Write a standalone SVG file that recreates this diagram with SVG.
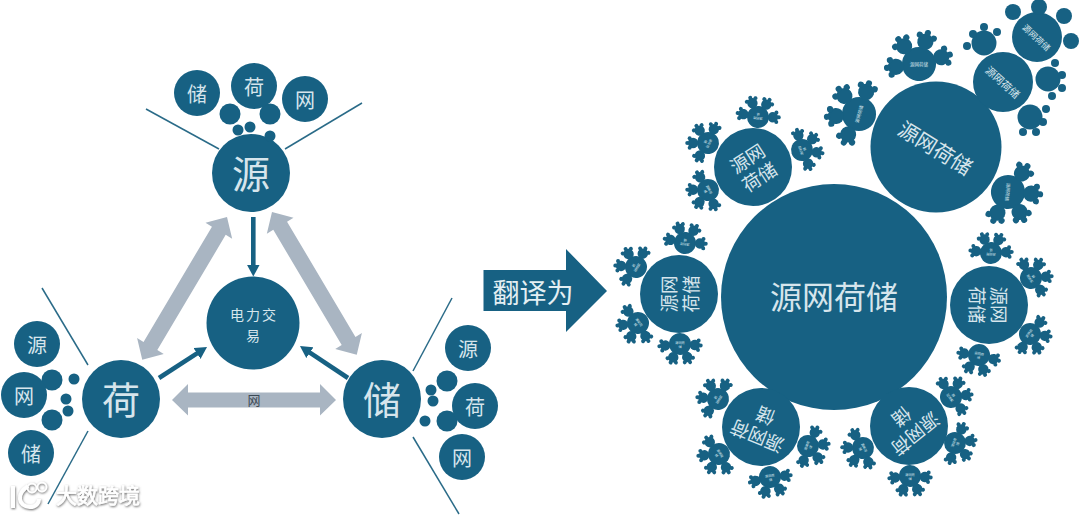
<svg xmlns="http://www.w3.org/2000/svg" width="1080" height="515" viewBox="0 0 1080 515">
<style>
text{font-family:"Noto Sans CJK SC","Noto Sans",sans-serif;text-anchor:middle;dominant-baseline:central}
.n{fill:#176183}
.t{fill:#d6e5ec}
.ln{stroke:#2a6b88;stroke-width:1.5;fill:none}
.ga{fill:#a9b5c2}
.da{stroke:#176183;stroke-width:4.6;fill:none;marker-end:url(#ah)}
.s38{font-size:38px}.s20{font-size:20px}.s14{font-size:14px;letter-spacing:2px}.s19{font-size:18.5px}.s3{font-size:3.2px}.s45{font-size:4.5px}
.wm{fill:#fff;stroke:#fff}
</style>
<defs>
<marker id="ah" viewBox="0 0 12 13" markerUnits="userSpaceOnUse" markerWidth="12" markerHeight="13" refX="1" refY="6.5" orient="auto"><path d="M0,0L12,6.5L0,13Z" fill="#176183"/></marker>
<filter id="sh" x="-10%" y="-20%" width="120%" height="150%"><feDropShadow dx="0.5" dy="1" stdDeviation="1.1" flood-color="#666" flood-opacity="1"/></filter>
<g id="blob" class="n"><circle r="5.2"/><circle cy="-5.8" r="2"/><circle cx="-4.7" cy="-3.4" r="2"/><circle cx="4.7" cy="-3.4" r="2"/></g>
<g id="flake" class="n"><circle r="11"/>
<use href="#blob" transform="translate(-14.9 -1.3) rotate(-85)"/>
<use href="#blob" transform="translate(-7 -13.2) rotate(-28)"/>
<use href="#blob" transform="translate(7 -13.2) rotate(28)"/>
<use href="#blob" transform="translate(14.9 -1.3) rotate(85)"/>
</g>
<g id="ft"><text class="t s3"><tspan x="0" y="-2">源网荷</tspan><tspan x="0" y="2">储</tspan></text></g>
</defs>

<g id="connectors">
<line class="ln" x1="146" y1="109" x2="219" y2="149"/>
<line class="ln" x1="362" y1="103" x2="285" y2="149"/>
<line class="ln" x1="42" y1="288" x2="88" y2="365"/>
<line class="ln" x1="88" y1="431" x2="48" y2="504"/>
<line class="ln" x1="452" y1="298" x2="413" y2="371"/>
<line class="ln" x1="413" y1="437" x2="459" y2="514"/>
<polygon class="ga" transform="translate(227 217) rotate(120.7)" points="0,0 16,-15.5 16,-8 150,-8 150,-15.5 166,0 150,15.5 150,8 16,8 16,15.5"/>
<polygon class="ga" transform="translate(272 212) rotate(59.3)" points="0,0 16,-15.5 16,-8 150,-8 150,-15.5 166,0 150,15.5 150,8 16,8 16,15.5"/>
<polygon class="ga" points="172,400 188,384 188,392.5 320,392.5 320,384 336,400 320,415.5 320,407.5 188,407.5 188,415.5"/>
<text x="254" y="399.5" font-size="13" fill="#3d4a55">网</text>
<line class="da" x1="253.3" y1="217" x2="253.3" y2="265.5"/>
<line class="da" x1="159" y1="378" x2="197.8" y2="352.9"/>
<line class="da" x1="348" y1="378" x2="309.1" y2="352.1"/>
</g>

<g id="node-yuan" class="n">
<circle cx="251" cy="173" r="39"/><text class="t s38" x="251" y="171">源</text>
<circle cx="230" cy="114" r="10.5"/><circle cx="270" cy="114" r="10.5"/><circle cx="238" cy="130" r="5.5"/><circle cx="250" cy="127" r="5.5"/><circle cx="270" cy="136" r="5.5"/>
<circle cx="197" cy="93" r="23"/><text class="t s20" x="197" y="93">储</text>
<circle cx="254" cy="86" r="23"/><text class="t s20" x="254" y="86">荷</text>
<circle cx="305" cy="99" r="23"/><text class="t s20" x="305" y="99">网</text>
</g>
<g id="node-he" class="n">
<circle cx="121" cy="399" r="39"/><text class="t s38" x="121" y="397">荷</text>
<circle cx="52" cy="380" r="10.5"/><circle cx="52" cy="420" r="10.5"/><circle cx="74" cy="379" r="5.5"/><circle cx="66" cy="399" r="5.5"/><circle cx="68" cy="411" r="5.5"/>
<circle cx="37" cy="344" r="23"/><text class="t s20" x="37" y="344">源</text>
<circle cx="24" cy="395" r="23"/><text class="t s20" x="24" y="395">网</text>
<circle cx="31" cy="453" r="23"/><text class="t s20" x="31" y="453">储</text>
</g>
<g id="node-chu" class="n">
<circle cx="382" cy="399" r="39"/><text class="t s38" x="382" y="397">储</text>
<circle cx="447" cy="381" r="10.5"/><circle cx="447" cy="421" r="10.5"/><circle cx="431" cy="390" r="5.5"/><circle cx="433" cy="401" r="5.5"/><circle cx="425" cy="421" r="5.5"/>
<circle cx="468" cy="348" r="23"/><text class="t s20" x="468" y="348">源</text>
<circle cx="475" cy="406" r="23"/><text class="t s20" x="475" y="406">荷</text>
<circle cx="462" cy="457" r="23"/><text class="t s20" x="462" y="457">网</text>
</g>
<g id="node-trade" class="n">
<circle cx="253" cy="323" r="46.5"/>
<text class="t s14"><tspan x="254" y="314">电力交</tspan><tspan x="254" y="335">易</tspan></text>
</g>

<g id="arrow-translate">
<polygon class="n" points="483.5,270 566,270 566,249 607,291 566,332 566,311 483.5,311"/>
<text x="533" y="291" font-size="27" fill="#e4eff3">翻译为</text>
</g>

<g id="node-main" class="n"><circle cx="834" cy="297" r="113"/><text class="t" x="834" y="295" font-size="32">源网荷储</text></g>

<g id="node-top" class="n">
<circle cx="936" cy="147" r="65.5"/><text class="t" font-size="20.5" transform="translate(936 147) rotate(31.5)">源网荷储</text>
<use href="#flake" transform="translate(919 64) rotate(-12) scale(1.55)"/><text class="t s45" transform="translate(919 64)">源网荷储</text>
<use href="#flake" transform="translate(859 114) rotate(-67) scale(1.55)"/><text class="t s45" transform="translate(859 114) rotate(-75)">源网荷储</text>
<use href="#flake" transform="translate(1008 192) rotate(122) scale(1.55)"/><text class="t s45" transform="translate(1008 192) rotate(95)">源网荷储</text>
</g>

<g id="node-top2" class="n">
<circle cx="1003" cy="82" r="30"/><text class="t" font-size="10.5" transform="translate(1003 82) rotate(42)">源网荷储</text>
<circle cx="1037" cy="37" r="25"/><text class="t" font-size="8.5" transform="translate(1037 37) rotate(43)">源网荷储</text>
<circle cx="1013" cy="12" r="8"/><circle cx="1039" cy="7" r="8"/><circle cx="1064" cy="16" r="8"/><circle cx="1071" cy="41" r="8"/>
<circle cx="984" cy="43" r="12.5"/><circle cx="973" cy="34" r="4"/><circle cx="984" cy="27" r="4"/><circle cx="997" cy="32" r="4"/><circle cx="967" cy="46" r="4"/>
<circle cx="1048" cy="79" r="12.5"/><circle cx="1055" cy="63" r="4"/><circle cx="1062" cy="75" r="4"/><circle cx="1062" cy="88" r="4"/><circle cx="1052" cy="96" r="4"/>
<circle cx="1030" cy="117" r="12.5"/><circle cx="1046" cy="109" r="4"/><circle cx="1043" cy="122" r="4"/><circle cx="1036" cy="132" r="4"/><circle cx="1023" cy="132" r="4"/>
</g>

<g id="node-ul" class="n">
<circle cx="753" cy="167" r="39"/>
<text class="t s19" transform="translate(753 167) rotate(-33)"><tspan x="0" y="-11">源网</tspan><tspan x="0" y="11">荷储</tspan></text>
<g transform="translate(758 117) rotate(6)"><use href="#flake"/><use href="#ft" transform="rotate(180)"/></g>
<g transform="translate(708 143) rotate(-62)"><use href="#flake"/><use href="#ft" transform="rotate(180)"/></g>
<g transform="translate(708 190) rotate(-117)"><use href="#flake"/><use href="#ft" transform="rotate(180)"/></g>
<g transform="translate(802 150) rotate(71)"><use href="#flake"/><use href="#ft" transform="rotate(180)"/></g>
</g>

<g id="node-l" class="n">
<circle cx="679" cy="294" r="39"/>
<text class="t s19" transform="translate(679 294) rotate(-90)"><tspan x="0" y="-11">源网</tspan><tspan x="0" y="11">荷储</tspan></text>
<g transform="translate(685 243) rotate(7)"><use href="#flake"/><use href="#ft" transform="rotate(180)"/></g>
<g transform="translate(636 267) rotate(-58)"><use href="#flake"/><use href="#ft" transform="rotate(180)"/></g>
<g transform="translate(638 323) rotate(-125)"><use href="#flake"/><use href="#ft" transform="rotate(180)"/></g>
<g transform="translate(680 344) rotate(179)"><use href="#flake"/><use href="#ft" transform="rotate(180)"/></g>
</g>

<g id="node-bl" class="n">
<circle cx="761" cy="427" r="39"/>
<text class="t s19" transform="translate(761 427) rotate(202)"><tspan x="0" y="-11">源网荷</tspan><tspan x="0" y="11">储</tspan></text>
<g transform="translate(718 399) rotate(-57)"><use href="#flake"/><use href="#ft" transform="rotate(180)"/></g>
<g transform="translate(719 454) rotate(-123)"><use href="#flake"/><use href="#ft" transform="rotate(180)"/></g>
<g transform="translate(770 477) rotate(170)"><use href="#flake"/><use href="#ft" transform="rotate(180)"/></g>
<g transform="translate(808 446) rotate(112)"><use href="#flake"/><use href="#ft" transform="rotate(180)"/></g>
</g>

<g id="node-br" class="n">
<circle cx="909" cy="426" r="39"/>
<text class="t s19" transform="translate(909 426) rotate(141)"><tspan x="0" y="-11">源网荷</tspan><tspan x="0" y="11">储</tspan></text>
<g transform="translate(863 448) rotate(-116)"><use href="#flake"/><use href="#ft" transform="rotate(180)"/></g>
<g transform="translate(910 476) rotate(179)"><use href="#flake"/><use href="#ft" transform="rotate(180)"/></g>
<g transform="translate(955 443) rotate(110)"><use href="#flake"/><use href="#ft" transform="rotate(180)"/></g>
<g transform="translate(951 397) rotate(55)"><use href="#flake"/><use href="#ft" transform="rotate(180)"/></g>
</g>

<g id="node-r" class="n">
<circle cx="989" cy="305" r="39"/>
<text class="t s19" transform="translate(989 305) rotate(90)"><tspan x="0" y="-11">源网</tspan><tspan x="0" y="11">荷储</tspan></text>
<g transform="translate(991 253) rotate(2)"><use href="#flake"/><use href="#ft" transform="rotate(180)"/></g>
<g transform="translate(1031 278) rotate(57)"><use href="#flake"/><use href="#ft" transform="rotate(180)"/></g>
<g transform="translate(1030 334) rotate(125)"><use href="#flake"/><use href="#ft" transform="rotate(180)"/></g>
<g transform="translate(979 355) rotate(-169)"><use href="#flake"/><use href="#ft" transform="rotate(180)"/></g>
</g>

<g id="watermark" filter="url(#sh)">
<path d="M13,486V508M28,486C16,494 18,506 30,507C36,507 39,503 39,499" fill="none" stroke="#fff" stroke-width="4"/>
<circle cx="32" cy="488" r="4.5" fill="none" stroke="#fff" stroke-width="1.8"/>
<circle cx="42" cy="487" r="4.5" fill="none" stroke="#fff" stroke-width="1.8"/>
<text class="wm" x="98" y="494" font-size="21" stroke-width="0.7">大数跨境</text>
</g>
</svg>
